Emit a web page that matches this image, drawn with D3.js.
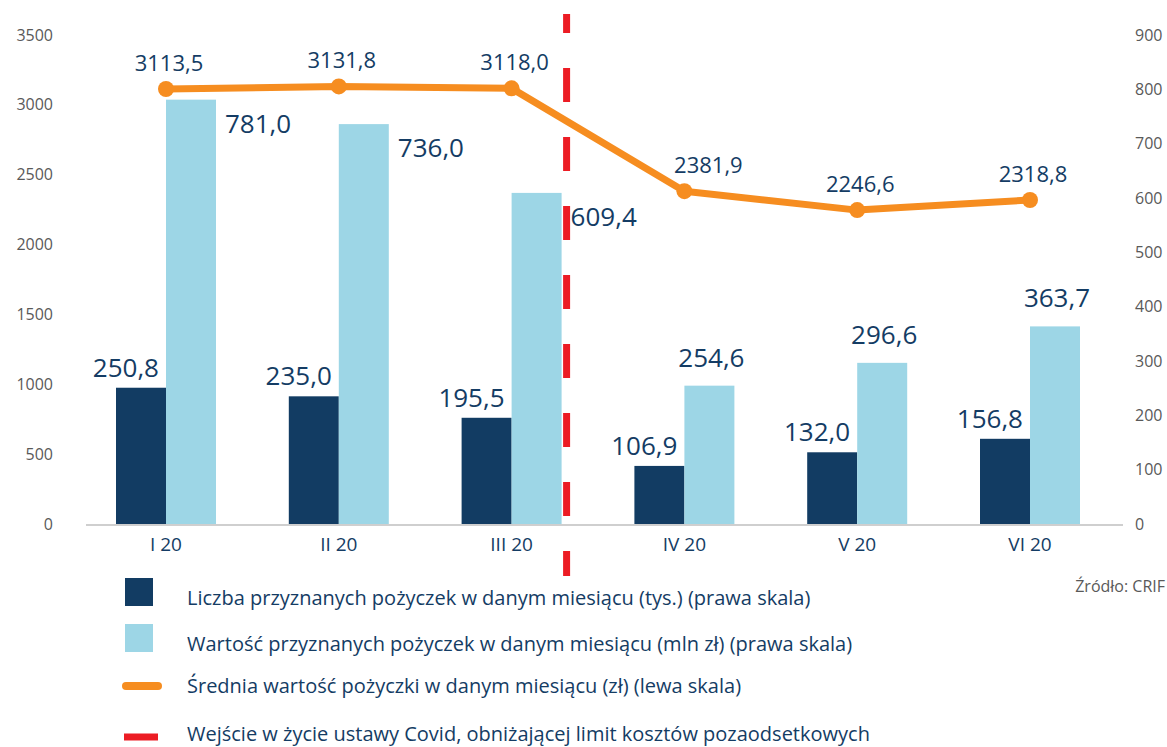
<!DOCTYPE html>
<html>
<head>
<meta charset="utf-8">
<script src="https://cdn.jsdelivr.net/npm/d3@7"></script>
<style>
  html, body { margin: 0; padding: 0; background: #ffffff; }
  svg { display: block; font-family: "Open Sans", "Noto Sans", sans-serif; }
</style>
</head>
<body>
<svg id="chart" width="1167" height="747"></svg>
<script>
// ---- data ----
const categories = ["I 20", "II 20", "III 20", "IV 20", "V 20", "VI 20"];
const loanCount = [250.8, 235.0, 195.5, 106.9, 132.0, 156.8];      // tys. (right scale)
const loanValue = [781.0, 736.0, 609.4, 254.6, 296.6, 363.7];      // mln zł (right scale)
const avgLoan = [3113.5, 3131.8, 3118.0, 2381.9, 2246.6, 2318.8];  // zł (left scale)
const leftTicks = [0, 500, 1000, 1500, 2000, 2500, 3000, 3500];
const rightTicks = [0, 100, 200, 300, 400, 500, 600, 700, 800, 900];
const covidCategory = "III 20";
const legendLabels = [
  "Liczba przyznanych pożyczek w danym miesiącu (tys.) (prawa skala)",
  "Wartość przyznanych pożyczek w danym miesiącu (mln zł) (prawa skala)",
  "Średnia wartość pożyczki w danym miesiącu (zł) (lewa skala)",
  "Wejście w życie ustawy Covid, obniżającej limit kosztów pozaodsetkowych"
];
const sourceText = "Źródło: CRIF";

// ---- styles ----
const C_DARK = "#123c63";
const C_LIGHT = "#9dd6e6";
const C_ORANGE = "#f68d20";
const C_RED = "#ec1c24";
const C_TEXT = "#143c64";
const C_AXIS = "#595959";

const fmt = v => v.toFixed(1).replace(".", ",");

const svg = d3.select("#chart");

const x = d3.scaleBand().domain(categories).range([79.6, 1116.4]).padding(0);
const yL = d3.scaleLinear().domain([0, 3500]).range([524, 35]);
const yR = d3.scaleLinear().domain([0, 900]).range([524, 35]);
const barW = 50;
const cx = c => x(c) + x.bandwidth() / 2;

// axes
const axL = svg.append("g").attr("transform", "translate(60,0)")
  .call(d3.axisLeft(yL).tickValues(leftTicks).tickSize(0).tickPadding(7).tickFormat(d3.format("d")));
const axR = svg.append("g").attr("transform", "translate(1128,0)")
  .call(d3.axisRight(yR).tickValues(rightTicks).tickSize(0).tickPadding(7).tickFormat(d3.format("d")));
[axL, axR].forEach(a => {
  a.select(".domain").remove();
  a.selectAll("text").attr("fill", C_AXIS).style("font-size", "16px").style("font-family", "'Open Sans', sans-serif");
});

// bars
svg.append("g").selectAll("rect").data(categories).join("rect")
  .attr("x", c => cx(c) - barW).attr("width", barW)
  .attr("y", (c, i) => yR(loanCount[i])).attr("height", (c, i) => yR(0) - yR(loanCount[i]))
  .attr("fill", C_DARK);
svg.append("g").selectAll("rect").data(categories).join("rect")
  .attr("x", c => cx(c)).attr("width", barW)
  .attr("y", (c, i) => yR(loanValue[i])).attr("height", (c, i) => yR(0) - yR(loanValue[i]))
  .attr("fill", C_LIGHT);

// baseline
svg.append("line").attr("x1", 86).attr("x2", 1123).attr("y1", yR(0) + 1).attr("y2", yR(0) + 1)
  .attr("stroke", "#bfbfbf").attr("stroke-width", 1.5);

// category axis
const axB = svg.append("g").attr("transform", `translate(0,${yR(0)})`)
  .call(d3.axisBottom(x).tickSize(0).tickPadding(14));
axB.select(".domain").remove();
axB.selectAll("text").attr("fill", C_TEXT).style("font-size", "19px").style("font-family", "'Open Sans', sans-serif");

// covid dashed line
const covidX = cx(covidCategory) + barW + 5;
svg.append("line").attr("x1", covidX).attr("x2", covidX).attr("y1", 14).attr("y2", 576)
  .attr("stroke", C_RED).attr("stroke-width", 7)
  .attr("stroke-dasharray", "34 35").attr("stroke-dashoffset", 15);

// line
const line = d3.line().x((d, i) => cx(categories[i])).y(d => yL(d));
svg.append("path").datum(avgLoan).attr("d", line)
  .attr("fill", "none").attr("stroke", C_ORANGE).attr("stroke-width", 7).attr("stroke-linejoin", "round");
svg.append("g").selectAll("circle").data(avgLoan).join("circle")
  .attr("cx", (d, i) => cx(categories[i])).attr("cy", d => yL(d)).attr("r", 8).attr("fill", C_ORANGE);

// labels
const covidIdx = categories.indexOf(covidCategory);
const lbl = svg.append("g").attr("fill", C_TEXT).style("font-family", "'Open Sans', sans-serif");
lbl.selectAll("text.avg").data(avgLoan).join("text").attr("class", "avg")
  .attr("x", (d, i) => cx(categories[i]) + (i === covidIdx + 1 ? 24 : 3)).attr("y", d => yL(d) - 18)
  .attr("text-anchor", "middle").style("font-size", "22px").text(fmt);
lbl.selectAll("text.cnt").data(loanCount).join("text").attr("class", "cnt")
  .attr("x", (d, i) => cx(categories[i]) - 7).attr("y", d => yR(d) - 11)
  .attr("text-anchor", "end").style("font-size", "26px").text(fmt);
lbl.selectAll("text.val").data(loanValue).join("text").attr("class", "val")
  .attr("x", (d, i) => i <= covidIdx ? cx(categories[i]) + barW + 9 : cx(categories[i]) + barW / 2 + 2)
  .attr("y", (d, i) => i <= covidIdx ? yR(d) + 33 : yR(d) - 19)
  .attr("text-anchor", (d, i) => i <= covidIdx ? "start" : "middle")
  .style("font-size", "26px").text(fmt);

// legend
const lg = svg.append("g");
const legY = [592, 638, 686, 737];
const legTextY = [605, 651, 693, 741];
lg.append("rect").attr("x", 125).attr("y", legY[0] - 14).attr("width", 28).attr("height", 28).attr("fill", C_DARK);
lg.append("rect").attr("x", 125).attr("y", legY[1] - 14).attr("width", 28).attr("height", 28).attr("fill", C_LIGHT);
lg.append("line").attr("x1", 126).attr("x2", 158).attr("y1", legY[2]).attr("y2", legY[2])
  .attr("stroke", C_ORANGE).attr("stroke-width", 8).attr("stroke-linecap", "round");
lg.append("line").attr("x1", 124).attr("x2", 158).attr("y1", legY[3]).attr("y2", legY[3])
  .attr("stroke", C_RED).attr("stroke-width", 7);
lg.selectAll("text").data(legendLabels).join("text")
  .attr("x", 187).attr("y", (d, i) => legTextY[i])
  .attr("fill", C_TEXT).style("font-size", "20px").style("font-family", "'Open Sans', sans-serif")
  .text(d => d);

svg.append("text").attr("x", 1165).attr("y", 592).attr("text-anchor", "end")
  .attr("fill", C_AXIS).style("font-size", "16px").style("font-family", "'Open Sans', sans-serif")
  .text(sourceText);
</script>
</body>
</html>
